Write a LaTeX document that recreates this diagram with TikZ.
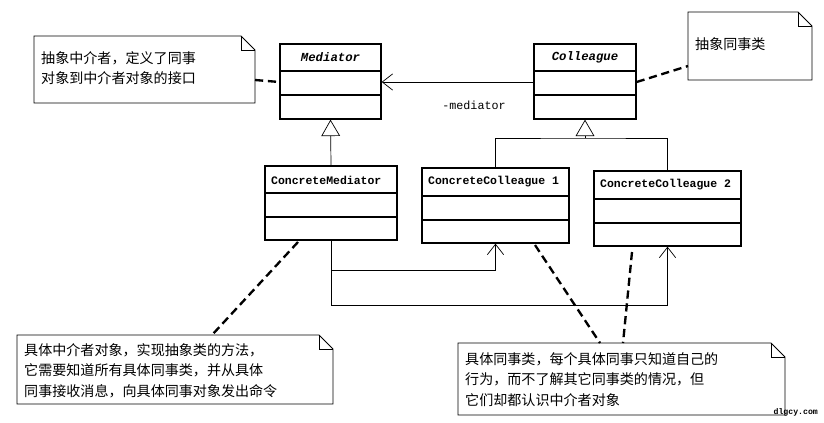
\documentclass[tikz,border=0pt]{standalone}
\usepackage{fontspec}
\setmainfont{Liberation Serif}
\newfontfamily\cjk{Noto Sans CJK SC}
\newfontfamily\mono{Liberation Mono}
\usetikzlibrary{arrows.meta}
\newcommand{\umlcls}[9]{% name x1 y1 x2 y2 d1 d2 text fontstyle
  \node[cls,minimum width={(#4-#2)*0.03cm},minimum height={(#5-#3)*0.03cm}] (#1) at ({(#2+#4)/2},{(#3+#5)/2}) {};
  \draw[line width=1.1pt] (#2,#6) -- (#4,#6) (#2,#7) -- (#4,#7);
  \node[#9] (#1-t) at ({(#2+#4)/2},{(#3+#6)/2}) {#8};
}
\newcommand{\umlnote}[7]{% name x1 y1 x2 y2 text textoffset
  \draw[notebox] (#2,#3) -- ({#4-14},#3) -- (#4,{#3+14}) -- (#4,#5) -- (#2,#5) -- cycle;
  \draw[thin] ({#4-14},#3) -- ({#4-14},{#3+14}) -- (#4,{#3+14});
  \node[notetxt,anchor=north west] (#1) at ({#2+7},{#3+#7}) {#6};
}
\tikzset{
  x=0.03cm,y=-0.03cm,
  cls/.style={draw,line width=1.1pt,inner sep=0pt},
  nm/.style={font=\mono\fontsize{9.8}{12}\selectfont\bfseries},
  inm/.style={font=\mono\fontsize{10.5}{12}\selectfont\bfseries\itshape},
  notebox/.style={draw,line width=0.7pt,fill=white},
  notetxt/.style={font=\cjk\fontsize{12}{17.5}\selectfont,align=left,inner sep=0pt},
  notedash/.style={line width=2pt,dash pattern=on 7pt off 4pt},
  gen/.style={-{Triangle[open,length=14pt,width=16pt]},line width=0.6pt},
  assoc/.style={-{Straight Barb[length=9pt,width=14pt]},line width=0.6pt},
}
\begin{document}
\begin{tikzpicture}
\useasboundingbox (0,0) rectangle (824,422);
\fill[white] (0,0) rectangle (824,422);
\umlcls{med}{280}{44}{381}{119}{71}{95}{Mediator}{inm}
\umlcls{col}{534}{44}{636}{119}{71}{95}{Colleague}{inm}
\node[nm,anchor=west] (cm-t) at (267,180) {ConcreteMediator};
\node[cls,minimum width={132*0.03cm},minimum height={74*0.03cm}] (cm) at (331,203) {};
\draw[line width=1.1pt] (265,193) -- (397,193) (265,217) -- (397,217);
\node[cls,minimum width={147*0.03cm},minimum height={75*0.03cm}] (c1) at (495.5,205.5) {};
\draw[line width=1.1pt] (422,196) -- (569,196) (422,220) -- (569,220);
\node[nm,anchor=west] (c1-t) at (424,182) {ConcreteColleague 1};
\node[cls,minimum width={147*0.03cm},minimum height={75*0.03cm}] (c2) at (667.5,208.5) {};
\draw[line width=1.1pt] (594,199) -- (741,199) (594,223) -- (741,223);
\node[nm,anchor=west] (c2-t) at (596,185) {ConcreteColleague 2};

% association
\draw[assoc] (col.west |- 0,82) -- (med.east |- 0,82);
\node[font=\mono\fontsize{10}{11}\selectfont] (lab) at (474,105) {-mediator};

% generalization
\draw[gen] (cm.north) -- (med.south);
\coordinate (j) at (585,138);
\draw[gen] (j) -- (col.south);
\draw[line width=0.6pt] (c1.north) |- (j) -| (c2.north);

% concrete mediator to colleagues
\coordinate (a1) at (331,270);
\coordinate (a2) at (331,305);
\draw[line width=0.6pt] (cm.south) -- (a2);
\draw[assoc] (a1) -| (c1.south);
\draw[assoc] (a2) -| (c2.south);

% notes
\umlnote{n1}{34}{36}{255}{103}{抽象中介者，定义了同事\\对象到中介者对象的接口}{15}
\umlnote{n2}{688}{12}{812}{80}{抽象同事类}{25}
\umlnote{n3}{17}{335}{333}{404}{具体中介者对象，实现抽象类的方法，\\它需要知道所有具体同事类，并从具体\\同事接收消息，向具体同事对象发出命令}{8}
\umlnote{n4}{458}{343}{785}{415}{具体同事类，每个具体同事只知道自己的\\行为，而不了解其它同事类的情况，但\\它们却都认识中介者对象}{9}

\coordinate (d1) at (255,80);
\draw[notedash] (d1) -- (med.west |- 0,82);
\coordinate (d2) at (688,66);
\draw[notedash] (col.east |- 0,82) -- (d2);
\coordinate (d3a) at (298,242);
\coordinate (d3b) at (212,335);
\draw[notedash] (d3a) -- (d3b);
\coordinate (d4a) at (535,245);
\coordinate (d4b) at (600,343);
\draw[notedash] (d4a) -- (d4b);
\coordinate (d5a) at (632,252);
\coordinate (d5b) at (623,343);
\draw[notedash] (d5a) -- (d5b);
\node[font=\mono\fontsize{7}{8}\selectfont\bfseries,anchor=south east] (wm) at (822,420) {dlgcy.com};
\end{tikzpicture}
\end{document}
